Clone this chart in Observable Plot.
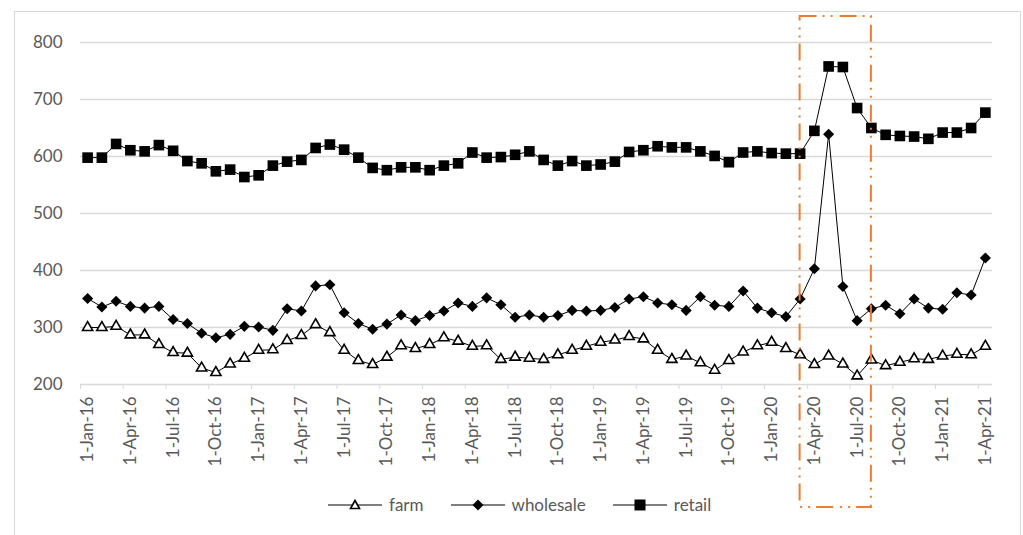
<!DOCTYPE html>
<html>
<head>
<meta charset="utf-8">
<script src="https://cdn.jsdelivr.net/npm/d3@7"></script>
<script src="https://cdn.jsdelivr.net/npm/@observablehq/plot@0.6"></script>
<style>
  body { margin: 0; background: #fff; }
  #wrap { position: relative; width: 1023px; height: 535px; overflow: hidden; background: #fff; font-family: Lato, "Liberation Sans", sans-serif; }
  #frame { position: absolute; left: 14px; top: 11px; width: 1007px; height: 540px; border: 1.5px solid #d9d9d9; box-sizing: border-box; pointer-events: none; }
  #legend { position: absolute; left: 328px; top: 493px; display: flex; align-items: center; font-size: 17px; color: #595959; }
  #legend .item { display: flex; align-items: center; margin-right: 27px; }
  #legend .item span { margin-left: 7px; line-height: 24px; }
  svg { overflow: visible; }
</style>
</head>
<body>
<div id="wrap"><div id="frame"></div><div id="legend"></div></div>
<script>
const months = [
  "1-Jan-16","1-Feb-16","1-Mar-16","1-Apr-16","1-May-16","1-Jun-16","1-Jul-16","1-Aug-16","1-Sep-16","1-Oct-16","1-Nov-16","1-Dec-16",
  "1-Jan-17","1-Feb-17","1-Mar-17","1-Apr-17","1-May-17","1-Jun-17","1-Jul-17","1-Aug-17","1-Sep-17","1-Oct-17","1-Nov-17","1-Dec-17",
  "1-Jan-18","1-Feb-18","1-Mar-18","1-Apr-18","1-May-18","1-Jun-18","1-Jul-18","1-Aug-18","1-Sep-18","1-Oct-18","1-Nov-18","1-Dec-18",
  "1-Jan-19","1-Feb-19","1-Mar-19","1-Apr-19","1-May-19","1-Jun-19","1-Jul-19","1-Aug-19","1-Sep-19","1-Oct-19","1-Nov-19","1-Dec-19",
  "1-Jan-20","1-Feb-20","1-Mar-20","1-Apr-20","1-May-20","1-Jun-20","1-Jul-20","1-Aug-20","1-Sep-20","1-Oct-20","1-Nov-20","1-Dec-20",
  "1-Jan-21","1-Feb-21","1-Mar-21","1-Apr-21"
];
const xTickLabels = [
  "1-Jan-16","1-Apr-16","1-Jul-16","1-Oct-16","1-Jan-17","1-Apr-17","1-Jul-17","1-Oct-17",
  "1-Jan-18","1-Apr-18","1-Jul-18","1-Oct-18","1-Jan-19","1-Apr-19","1-Jul-19","1-Oct-19",
  "1-Jan-20","1-Apr-20","1-Jul-20","1-Oct-20","1-Jan-21","1-Apr-21"
];
const yTicks = [200, 300, 400, 500, 600, 700, 800];

const farm = [
  300,300,302,287,287,270,256,255,229,221,236,246,
  260,261,277,286,305,291,260,242,235,248,268,263,
  270,282,276,267,268,244,248,246,244,252,260,267,
  274,278,284,280,260,244,250,238,225,242,257,268,
  274,263,252,235,250,236,215,243,233,239,245,244,
  250,253,252,267
];
const wholesale = [
  351,336,346,337,334,337,314,307,290,282,288,302,
  301,295,333,329,373,375,326,307,297,306,322,312,
  321,329,343,337,352,340,318,322,318,321,330,329,
  330,335,350,354,343,340,330,354,339,337,364,334,
  326,319,350,403,639,372,312,333,339,324,350,334,
  332,361,357,422
];
const retail = [
  598,598,622,611,609,620,610,592,588,574,577,564,
  567,584,591,594,615,621,612,598,580,576,581,581,
  576,584,588,607,598,599,603,609,594,584,592,584,
  586,591,608,611,618,616,616,609,601,590,607,609,
  606,605,605,645,758,757,685,650,638,636,635,631,
  642,642,650,677
];
const seriesNames = ["farm", "wholesale", "retail"];
const highlight = ["1-Mar-20", "1-Aug-20"];

const rows = (vals, s) => months.map((m, i) => ({month: m, series: s, value: vals[i]}));
const farmRows = rows(farm, "farm");
const wholesaleRows = rows(wholesale, "wholesale");
const retailRows = rows(retail, "retail");

const W = 1023, H = 535, mL = 80, mR = 31, mT = 42, mB = 151;
const step = (W - mL - mR) / months.length;
const grey = "#d9d9d9", txt = "#595959";

const chart = Plot.plot({
  width: W, height: H,
  marginLeft: mL, marginRight: mR, marginTop: mT, marginBottom: mB,
  style: {fontFamily: "Lato, 'Liberation Sans', sans-serif", fontSize: "17px", color: txt, background: "transparent"},
  x: {type: "point", domain: months, padding: 0.5, round: false},
  y: {domain: [200, 800]},
  marks: [
    Plot.ruleY(yTicks.filter(d => d > 200), {stroke: grey, strokeWidth: 1.3}),
    Plot.ruleY([200], {stroke: grey, strokeWidth: 1.3}),
    Plot.axisY({ticks: yTicks, tickSize: 0, tickPadding: 18, label: null, tickFormat: d => String(d)}),
    Plot.axisX({ticks: xTickLabels, tickSize: 0, tickPadding: 12, tickRotate: -90, label: null}),
    Plot.axisX({ticks: xTickLabels, tickSize: 5, tickFormat: () => "", dx: -step / 2, stroke: grey, label: null}),
    Plot.lineY(farmRows, {x: "month", y: "value", stroke: "black", strokeWidth: 1}),
    Plot.lineY(wholesaleRows, {x: "month", y: "value", stroke: "black", strokeWidth: 1}),
    Plot.lineY(retailRows, {x: "month", y: "value", stroke: "black", strokeWidth: 1}),
    Plot.dot(retailRows, {x: "month", y: "value", symbol: "square", r: 6, fill: "black"}),
    Plot.dot(wholesaleRows, {x: "month", y: "value", symbol: "diamond2", r: 5, fill: "black"}),
    Plot.dot(farmRows, {x: "month", y: "value", symbol: "triangle", r: 3.8, fill: "white", stroke: "black", strokeWidth: 1.6})
  ]
});

// highlight box (COVID period), x from the chart's own scale
const sx = chart.scale("x");
const bx1 = sx.apply(highlight[0]), bx2 = sx.apply(highlight[1]);
d3.select(chart).append("rect")
  .attr("x", bx1).attr("y", mT - 26)
  .attr("width", bx2 - bx1).attr("height", (H - mB) - (mT - 26) + 123)
  .attr("fill", "none").attr("stroke", "#ED7D31").attr("stroke-width", 2)
  .attr("stroke-dasharray", "17 6 2 6 2 7");

const wrap = document.getElementById("wrap");
wrap.insertBefore(chart, wrap.firstChild);
chart.style.position = "absolute"; chart.style.left = "0"; chart.style.top = "0";

// legend
const symbols = {
  farm: '<path d="M27,1.5 L31.5,9.5 L22.5,9.5 Z" fill="white" stroke="black" stroke-width="1.6"/>',
  wholesale: '<path d="M27,0.5 L32.5,6 L27,11.5 L21.5,6 Z" fill="black"/>',
  retail: '<rect x="21.5" y="0.5" width="11" height="11" fill="black"/>'
};
const legend = document.getElementById("legend");
seriesNames.forEach(s => {
  const it = document.createElement("div");
  it.className = "item";
  it.innerHTML = `<svg width="54" height="12" style="overflow:visible"><line x1="0" x2="54" y1="6" y2="6" stroke="black" stroke-width="1"/>${symbols[s]}</svg><span>${s}</span>`;
  legend.appendChild(it);
});
</script>
</body>
</html>
